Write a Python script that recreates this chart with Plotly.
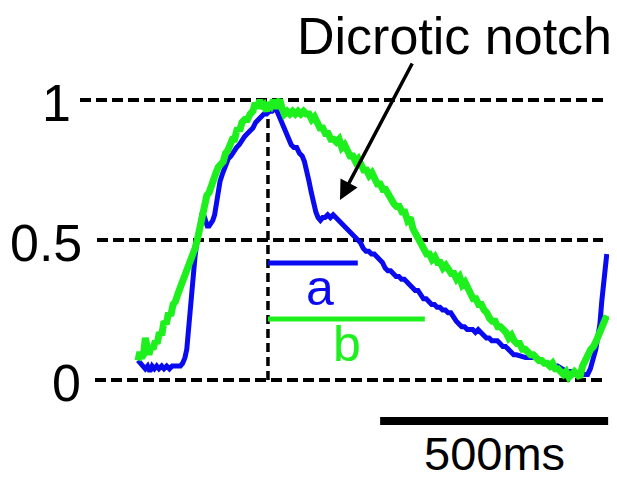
import plotly.graph_objects as go

# ---------------- data ----------------
# time in ms, normalised amplitude (0..1)
blue_t = [0, 6, 11, 16, 21, 26, 31, 36, 41, 46, 52, 57, 63, 69, 75, 81, 87, 93, 98, 103,
          107, 110, 113, 116, 119, 122, 125, 128, 132, 136, 140, 144, 148, 152, 156, 160, 164, 168, 172, 176,
          180, 186, 192, 198, 204, 210, 216, 222, 228, 234, 240, 246, 252, 258, 264, 270, 276, 282, 288, 294,
          300, 305, 310, 315, 320, 325, 330, 336, 342, 348, 354, 360, 365, 370, 375, 380, 385, 390, 395, 400,
          405, 410, 416, 422, 428, 434, 440, 446, 452, 458, 464, 470, 476, 482, 488, 494, 500, 506, 512, 518,
          524, 530, 536, 542, 548, 554, 560, 566, 572, 578, 584, 590, 596, 602, 608, 614, 620, 626, 632, 638,
          644, 650, 656, 662, 668, 674, 680, 686, 692, 698, 704, 710, 716, 722, 728, 734, 740, 746, 752, 758,
          764, 770, 776, 782, 788, 794, 800, 806, 812, 818, 824, 830, 840, 850, 860, 870, 880, 890, 900, 910,
          920, 930, 940, 950, 960, 970, 980, 986, 992, 998, 1004, 1009, 1013, 1017, 1020, 1024, 1028]
blue_y = [0.07, 0.06, 0.05, 0.04, 0.05, 0.03, 0.05, 0.04, 0.05, 0.04, 0.05, 0.04, 0.05, 0.04, 0.05, 0.05, 0.05, 0.05, 0.06, 0.08,
          0.11, 0.17, 0.24, 0.30, 0.36, 0.40, 0.44, 0.48, 0.52, 0.57, 0.59, 0.59, 0.56, 0.55, 0.55, 0.56, 0.57, 0.59, 0.64, 0.68,
          0.71, 0.74, 0.77, 0.79, 0.80, 0.82, 0.83, 0.84, 0.86, 0.87, 0.88, 0.89, 0.90, 0.92, 0.93, 0.94, 0.95, 0.95, 0.96, 0.96,
          0.97, 0.96, 0.94, 0.92, 0.90, 0.88, 0.86, 0.84, 0.83, 0.83, 0.81, 0.80, 0.78, 0.75, 0.71, 0.67, 0.63, 0.60, 0.58, 0.57,
          0.58, 0.58, 0.59, 0.58, 0.59, 0.58, 0.57, 0.56, 0.55, 0.54, 0.53, 0.52, 0.51, 0.50, 0.49, 0.47, 0.46, 0.46, 0.45, 0.45,
          0.44, 0.43, 0.42, 0.40, 0.39, 0.39, 0.38, 0.37, 0.37, 0.36, 0.36, 0.35, 0.34, 0.33, 0.32, 0.32, 0.30, 0.29, 0.29, 0.28,
          0.27, 0.27, 0.26, 0.26, 0.25, 0.25, 0.24, 0.24, 0.22, 0.21, 0.20, 0.19, 0.19, 0.18, 0.18, 0.18, 0.17, 0.18, 0.17, 0.16,
          0.15, 0.15, 0.14, 0.14, 0.14, 0.13, 0.12, 0.12, 0.11, 0.10, 0.09, 0.09, 0.085, 0.08, 0.08, 0.08, 0.07, 0.06, 0.06, 0.05,
          0.05, 0.04, 0.03, 0.03, 0.02, 0.02, 0.02, 0.02, 0.04, 0.07, 0.11, 0.16, 0.20, 0.28, 0.33, 0.40, 0.45]

green_t = [0, 4, 8, 12, 16, 20, 24, 28, 33, 38, 42, 47, 52, 57, 62, 67, 72, 77, 82, 88,
           93, 99, 104, 110, 115, 120, 125, 130, 136, 141, 146, 151, 156, 161, 166, 171, 176, 181, 187, 192,
           197, 202, 207, 212, 218, 223, 228, 234, 240, 246, 252, 257, 262, 267, 272, 277, 282, 287, 292, 297,
           302, 306, 311, 316, 321, 327, 333, 339, 345, 351, 357, 363, 369, 375, 381, 387, 393, 399, 405, 411,
           417, 423, 429, 435, 441, 447, 453, 459, 465, 471, 477, 483, 489, 495, 501, 507, 513, 519, 525, 531,
           537, 543, 549, 555, 561, 567, 573, 579, 585, 591, 597, 603, 609, 615, 621, 627, 633, 639, 645, 651,
           657, 663, 669, 675, 681, 687, 693, 699, 705, 711, 717, 723, 729, 735, 741, 747, 753, 759, 765, 771,
           777, 783, 789, 795, 801, 807, 813, 819, 825, 831, 837, 843, 849, 855, 861, 867, 873, 879, 885, 891,
           897, 903, 909, 915, 921, 927, 933, 939, 945, 951, 957, 963, 969, 975, 981, 987, 993, 999, 1005, 1011,
           1017, 1023, 1028]
green_y = [0.07, 0.10, 0.08, 0.09, 0.15, 0.10, 0.09, 0.12, 0.11, 0.14, 0.13, 0.17, 0.16, 0.21, 0.20, 0.24, 0.23, 0.27, 0.28, 0.31,
           0.33, 0.36, 0.38, 0.40, 0.42, 0.44, 0.47, 0.50, 0.55, 0.60, 0.62, 0.66, 0.67, 0.70, 0.71, 0.74, 0.76, 0.77, 0.78, 0.81,
           0.82, 0.84, 0.86, 0.86, 0.90, 0.89, 0.92, 0.93, 0.93, 0.95, 0.96, 0.99, 0.97, 1.00, 0.97, 0.98, 0.96, 0.99, 0.98, 1.00,
           0.97, 0.99, 1.00, 0.97, 0.95, 0.96, 0.95, 0.96, 0.95, 0.96, 0.95, 0.96, 0.95, 0.95, 0.93, 0.94, 0.91, 0.90, 0.90, 0.88,
           0.88, 0.86, 0.86, 0.85, 0.86, 0.83, 0.84, 0.82, 0.80, 0.80, 0.78, 0.79, 0.76, 0.75, 0.75, 0.73, 0.74, 0.72, 0.70, 0.70,
           0.68, 0.68, 0.66, 0.65, 0.63, 0.62, 0.62, 0.60, 0.60, 0.57, 0.58, 0.54, 0.52, 0.50, 0.48, 0.47, 0.45, 0.45, 0.43, 0.44,
           0.42, 0.42, 0.40, 0.41, 0.39, 0.38, 0.38, 0.36, 0.37, 0.34, 0.35, 0.32, 0.31, 0.29, 0.29, 0.27, 0.27, 0.25, 0.24, 0.22,
           0.21, 0.21, 0.19, 0.19, 0.18, 0.17, 0.15, 0.16, 0.14, 0.13, 0.13, 0.11, 0.11, 0.10, 0.09, 0.09, 0.08, 0.07, 0.07, 0.06,
           0.06, 0.05, 0.06, 0.04, 0.04, 0.03, 0.02, 0.03, 0.01, 0.02, 0.03, 0.02, 0.01, 0.05, 0.08, 0.09, 0.11, 0.12, 0.14, 0.16,
           0.18, 0.21, 0.23]

tick_vals = [0, 0.5, 1]
tick_text = ["0", "0.5", "1"]

peak_t = 285          # ms, vertical marker at peak
interval_a = 197      # ms (blue)
interval_b = 344      # ms (green)
interval_a_level = 0.418
interval_b_level = 0.218
scale_bar_ms = 500
scale_bar_start = 531
scale_bar_level = -0.146

# ---------------- layout geometry ----------------
# page pixels (the page body has an 8px margin, the figure is shrunk to fit)
PAGE_W, PAGE_H = 617, 480
OFF = 8
W, H = PAGE_W - OFF, PAGE_H - OFF
PX_PER_MS = 228 / 500.0
X0_PX = 138          # page pixel of t = 0
Y0_PX, Y1_PX = 380, 100   # page pixel of y = 0 and y = 1
PX_PER_UNIT = Y0_PX - Y1_PX

def px_to_t(px):
    return (px - X0_PX) / PX_PER_MS

def py_to_v(py):
    return (Y0_PX - py) / PX_PER_UNIT

def paper_x(px):
    return (px - OFF) / W

def paper_y(py):
    return 1 - (py - OFF) / H

x_range = [px_to_t(OFF), px_to_t(PAGE_W)]
y_range = [py_to_v(PAGE_H), py_to_v(OFF)]

FONT = "Liberation Sans, Arial, Helvetica, sans-serif"
BLUE = "#0a0af0"
GREEN = "#1ef01e"

fig = go.Figure()

# dashed horizontal reference lines at tick values
grid_start_px = {0: 95, 0.5: 97, 1: 80}
for v in tick_vals:
    fig.add_shape(type="line", xref="x", yref="y",
                  x0=px_to_t(grid_start_px[v]), x1=px_to_t(603), y0=v, y1=v,
                  line=dict(color="black", width=4, dash="11px,5px"), layer="below")

# vertical dotted line at peak
fig.add_shape(type="line", xref="x", yref="y", x0=peak_t, x1=peak_t, y0=0, y1=1,
              line=dict(color="black", width=3.5, dash="9px,5px"), layer="below")

fig.add_trace(go.Scatter(x=blue_t, y=blue_y, mode="lines",
                         line=dict(color=BLUE, width=5), hoverinfo="skip"))
fig.add_trace(go.Scatter(x=green_t, y=green_y, mode="lines",
                         line=dict(color=GREEN, width=7), hoverinfo="skip"))

# interval bars
fig.add_shape(type="line", xref="x", yref="y", x0=peak_t, x1=peak_t + interval_a,
              y0=interval_a_level, y1=interval_a_level, line=dict(color=BLUE, width=5))
fig.add_shape(type="line", xref="x", yref="y", x0=peak_t, x1=peak_t + interval_b,
              y0=interval_b_level, y1=interval_b_level, line=dict(color=GREEN, width=5))

# scale bar
fig.add_shape(type="line", xref="x", yref="y", x0=scale_bar_start, x1=scale_bar_start + scale_bar_ms,
              y0=scale_bar_level, y1=scale_bar_level, line=dict(color="black", width=8))

annotations = []
# tick labels
tick_right_px = {0: 83, 0.5: 84, 1: 73}
for v, txt in zip(tick_vals, tick_text):
    annotations.append(dict(x=paper_x(tick_right_px[v]), xref="paper", y=v, yref="y",
                            text=txt, showarrow=False, xanchor="right", yanchor="middle",
                            yshift=-3, font=dict(family=FONT, size=52, color="black")))

annotations.append(dict(x=peak_t + interval_a / 2, xref="x", y=interval_a_level, yref="y",
                        text="a", showarrow=False, xanchor="center", yanchor="middle",
                        xshift=7, yshift=-25, font=dict(family=FONT, size=50, color=BLUE)))
annotations.append(dict(x=peak_t + interval_b / 2, xref="x", y=interval_b_level, yref="y",
                        text="b", showarrow=False, xanchor="center", yanchor="middle",
                        xshift=1, yshift=-25, font=dict(family=FONT, size=50, color=GREEN)))

annotations.append(dict(x=scale_bar_start + scale_bar_ms / 2, xref="x", y=scale_bar_level, yref="y",
                        text=f"{scale_bar_ms}ms", showarrow=False, xanchor="center", yanchor="middle",
                        yshift=-33, font=dict(family=FONT, size=47, color="black")))

annotations.append(dict(x=paper_x(454), xref="paper", y=paper_y(36), yref="paper",
                        text="Dicrotic notch", showarrow=False, xanchor="center", yanchor="middle",
                        font=dict(family=FONT, size=52, color="black")))
# arrow
annotations.append(dict(x=px_to_t(340), xref="x", y=py_to_v(200), yref="y",
                        ax=73, ay=-138, axref="pixel", ayref="pixel",
                        text="", showarrow=True, arrowhead=2, arrowsize=1.1, arrowwidth=3.5,
                        arrowcolor="black"))

fig.update_layout(
    width=W, height=H,
    margin=dict(l=0, r=0, t=0, b=0),
    paper_bgcolor="white", plot_bgcolor="white",
    showlegend=False,
    xaxis=dict(range=x_range, visible=False, fixedrange=True),
    yaxis=dict(range=y_range, visible=False, fixedrange=True),
    annotations=annotations,
)

fig.write_html("out.html")
